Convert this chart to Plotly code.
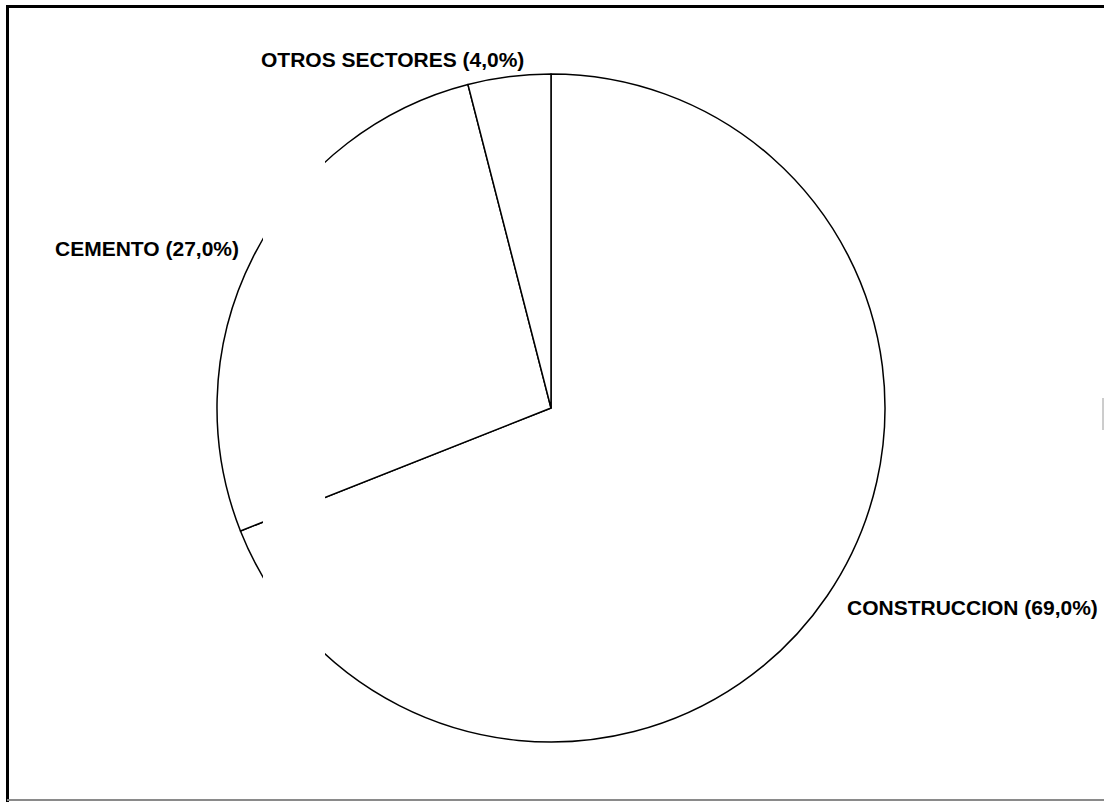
import plotly.graph_objects as go

# Data
categories = ["CONSTRUCCION", "CEMENTO", "OTROS SECTORES"]
shares = [69.0, 27.0, 4.0]
label_texts = ["CONSTRUCCION (69,0%)", "CEMENTO (27,0%)", "OTROS SECTORES (4,0%)"]

W, H = 1104, 802
cx, cy, r = 551, 408, 334

def px(x):
    return x / W

def py(y):
    return 1 - y / H

fig = go.Figure()
fig.add_trace(go.Pie(
    labels=categories,
    values=shares,
    sort=False,
    direction="clockwise",
    rotation=0,
    textinfo="none",
    hoverinfo="skip",
    showlegend=False,
    marker=dict(colors=["white"] * 3, line=dict(color="black", width=1.5)),
    domain=dict(x=[px(cx - r), px(cx + r)], y=[py(cy + r), py(cy - r)]),
))

font = dict(family="Liberation Sans, Arial, Helvetica, sans-serif", size=21, color="black")
label_pos = {
    "CONSTRUCCION (69,0%)": (845, 607),
    "CEMENTO (27,0%)": (53, 248),
    "OTROS SECTORES (4,0%)": (259, 59),
}
for t in label_texts:
    x, y = label_pos[t]
    fig.add_annotation(x=px(x), y=py(y), xref="paper", yref="paper",
                       text="<b>%s</b>" % t, showarrow=False,
                       xanchor="left", yanchor="middle", font=font)

shapes = [
    # scan gaps in the outline
    dict(type="rect", xref="paper", yref="paper", x0=px(263), x1=px(325),
         y0=py(470), y1=py(655), fillcolor="white", line=dict(width=0), layer="above"),
    dict(type="rect", xref="paper", yref="paper", x0=px(263), x1=px(325),
         y0=py(100), y1=py(242), fillcolor="white", line=dict(width=0), layer="above"),
    # frame
    dict(type="line", xref="paper", yref="paper", x0=px(7.5), x1=px(7.5),
         y0=py(6), y1=py(802), line=dict(color="black", width=3), layer="above"),
    dict(type="line", xref="paper", yref="paper", x0=px(6), x1=px(1104),
         y0=py(6.5), y1=py(6.5), line=dict(color="black", width=3), layer="above"),
    dict(type="line", xref="paper", yref="paper", x0=px(7), x1=px(1104),
         y0=py(800), y1=py(800), line=dict(color="#8a8a8a", width=2), layer="above"),
    dict(type="line", xref="paper", yref="paper", x0=px(1103), x1=px(1103),
         y0=py(398), y1=py(430), line=dict(color="#9a9a9a", width=1), layer="above"),
]

fig.update_layout(
    width=W, height=H,
    margin=dict(l=0, r=0, t=0, b=0),
    paper_bgcolor="white", plot_bgcolor="white",
    shapes=shapes,
)

fig.write_html("out.html")
